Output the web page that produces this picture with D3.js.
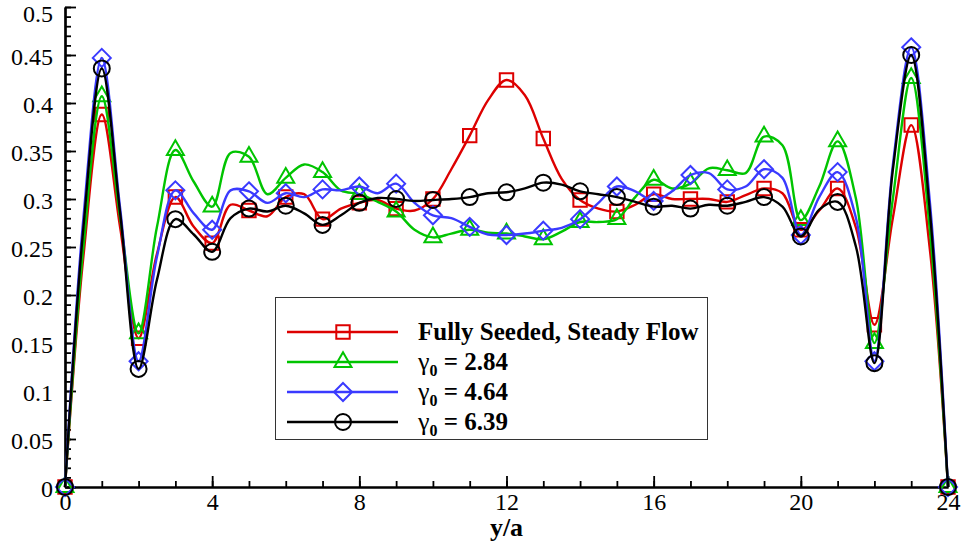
<!DOCTYPE html>
<html>
<head>
<meta charset="utf-8">
<script src="https://cdn.jsdelivr.net/npm/d3@7/dist/d3.min.js"></script>
<style>
  html, body { margin: 0; padding: 0; background: #fff; }
  svg { display: block; }
  svg text { font-family: "Liberation Serif", Tinos, "Times New Roman", Times, "DejaVu Serif", serif; }
</style>
</head>
<body>
<svg id="chart" width="961" height="542"></svg>
<script>
// Wall-normal positions y/a (data every 0.5, symbols every 1.0)
const positions = d3.range(49).map(i => i / 2);

const fullySeeded = [
  0, 0.240, 0.388, 0.270, 0.155, 0.243, 0.302, 0.271, 0.254, 0.294,
  0.288, 0.282, 0.302, 0.305, 0.279, 0.290, 0.296, 0.299, 0.290, 0.288,
  0.300, 0.331, 0.366, 0.403, 0.424, 0.408, 0.363, 0.321, 0.299, 0.290,
  0.287, 0.294, 0.305, 0.300, 0.300, 0.300, 0.297, 0.304, 0.311, 0.306,
  0.268, 0.288, 0.311, 0.270, 0.169, 0.280, 0.377, 0.250, 0
];
const gamma284 = [
  0, 0.250, 0.407, 0.280, 0.160, 0.271, 0.351, 0.318, 0.292, 0.348,
  0.344, 0.305, 0.322, 0.336, 0.328, 0.309, 0.305, 0.297, 0.287, 0.268,
  0.260, 0.264, 0.268, 0.265, 0.264, 0.261, 0.258, 0.266, 0.276, 0.276,
  0.279, 0.302, 0.320, 0.311, 0.316, 0.332, 0.330, 0.327, 0.365, 0.356,
  0.278, 0.313, 0.360, 0.300, 0.150, 0.300, 0.426, 0.270, 0
];
const gamma464 = [
  0, 0.280, 0.447, 0.290, 0.131, 0.240, 0.309, 0.285, 0.268, 0.309,
  0.308, 0.296, 0.306, 0.302, 0.310, 0.309, 0.313, 0.306, 0.316, 0.296,
  0.283, 0.280, 0.271, 0.263, 0.2625, 0.264, 0.267, 0.270, 0.279, 0.296,
  0.313, 0.308, 0.298, 0.308, 0.325, 0.327, 0.310, 0.313, 0.331, 0.322,
  0.2625, 0.302, 0.328, 0.280, 0.131, 0.335, 0.458, 0.300, 0
];
const gamma639 = [
  0, 0.270, 0.436, 0.285, 0.123, 0.216, 0.279, 0.263, 0.245, 0.280,
  0.290, 0.287, 0.293, 0.285, 0.273, 0.283, 0.296, 0.301, 0.300, 0.298,
  0.299, 0.300, 0.302, 0.306, 0.307, 0.311, 0.317, 0.315, 0.308, 0.305,
  0.302, 0.297, 0.292, 0.293, 0.290, 0.294, 0.293, 0.297, 0.302, 0.292,
  0.261, 0.289, 0.297, 0.250, 0.129, 0.330, 0.450, 0.290, 0
];

const xTicks = [0, 4, 8, 12, 16, 20, 24];
const xTickLabels = ["0", "4", "8", "12", "16", "20", "24"];
const yTicks = [0, 0.05, 0.1, 0.15, 0.2, 0.25, 0.3, 0.35, 0.4, 0.45, 0.5];
const yTickLabels = ["0", "0.05", "0.1", "0.15", "0.2", "0.25", "0.3", "0.35", "0.4", "0.45", "0.5"];

const seriesDefs = [
  { name: "Fully Seeded, Steady Flow", values: fullySeeded, color: "#dd0000", symbol: "square" },
  { name: "2.84", values: gamma284, color: "#00c400", symbol: "triangle" },
  { name: "4.64", values: gamma464, color: "#3a3aff", symbol: "diamond" },
  { name: "6.39", values: gamma639, color: "#000000", symbol: "circle" }
];

const serif = '"Liberation Serif", Tinos, "Times New Roman", Times, "DejaVu Serif", serif';

const svg = d3.select("#chart");
const x = d3.scaleLinear().domain([0, 24]).range([65, 948]);
const y = d3.scaleLinear().domain([0, 0.5]).range([487, 7]);

// Axes: ticks point inward, minor ticks every 1 (x) and 0.01 (y)
const axisStyle = g => {
  g.attr("font-family", serif).attr("font-size", 24);
  g.selectAll("path.domain").attr("stroke", "#000").attr("stroke-width", 2.2);
  g.selectAll(".tick line").attr("stroke", "#000").attr("stroke-width", 1.8);
  g.selectAll(".tick text").attr("fill", "#000");
};

svg.append("g")
  .attr("transform", `translate(0,${y(0)})`)
  .call(d3.axisBottom(x).tickValues(d3.range(25)).tickSize(-6).tickFormat("").tickSizeOuter(0))
  .call(axisStyle);
svg.append("g")
  .attr("transform", `translate(${x(0)},0)`)
  .call(d3.axisLeft(y).tickValues(d3.range(51).map(i => i / 100)).tickSize(-6).tickFormat("").tickSizeOuter(0))
  .call(axisStyle);

svg.append("g")
  .attr("transform", `translate(0,${y(0)})`)
  .call(d3.axisBottom(x).tickValues(xTicks).tickSize(-11).tickPadding(6)
    .tickFormat((d, i) => xTickLabels[i]).tickSizeOuter(0))
  .call(axisStyle);
svg.append("g")
  .attr("transform", `translate(${x(0)},0)`)
  .call(d3.axisLeft(y).tickValues(yTicks).tickSize(-11).tickPadding(12)
    .tickFormat((d, i) => yTickLabels[i]).tickSizeOuter(0))
  .call(axisStyle)
  .call(g => g.selectAll(".tick text").attr("dy", d => d === 0.5 ? "0.6em" : "0.38em"));

svg.append("text")
  .attr("x", (x(0) + x(24)) / 2)
  .attr("y", 536)
  .attr("text-anchor", "middle")
  .attr("font-family", serif)
  .attr("font-size", 26)
  .attr("font-weight", "bold")
  .text("y/a");

// Marker shapes
const symbolPath = {
  square: d3.symbol(d3.symbolSquare, 180)(),
  triangle: d3.symbol(d3.symbolTriangle, 125)(),
  diamond: "M0,-9L9,0L0,9L-9,0Z",
  circle: d3.symbol(d3.symbolCircle, 201)()
};

const line = d3.line()
  .x(d => x(d[0]))
  .y(d => y(d[1]))
  .curve(d3.curveCatmullRom.alpha(0.5));

const plot = svg.append("g");
seriesDefs.forEach(s => {
  const pts = positions.map((p, i) => [p, s.values[i]]);
  plot.append("path")
    .datum(pts)
    .attr("fill", "none")
    .attr("stroke", s.color)
    .attr("stroke-width", 2.4)
    .attr("d", line);
  plot.append("g").selectAll("path")
    .data(pts.filter(d => Number.isInteger(d[0])))
    .join("path")
    .attr("transform", d => `translate(${x(d[0])},${y(d[1])})`)
    .attr("d", symbolPath[s.symbol])
    .attr("fill", "none")
    .attr("stroke", s.color)
    .attr("stroke-width", 2);
});

// Legend
const legend = svg.append("g")
  .attr("font-family", serif);
legend.append("rect")
  .attr("x", 275.5).attr("y", 297.5)
  .attr("width", 432).attr("height", 142)
  .attr("fill", "#fff")
  .attr("stroke", "#333")
  .attr("stroke-width", 1);

seriesDefs.forEach((s, i) => {
  const ry = 332 + i * 30;
  const row = legend.append("g");
  row.append("line")
    .attr("x1", 287).attr("x2", 398)
    .attr("y1", ry).attr("y2", ry)
    .attr("stroke", s.color).attr("stroke-width", 2.4);
  row.append("path")
    .attr("transform", `translate(343,${ry})`)
    .attr("d", symbolPath[s.symbol])
    .attr("fill", "none")
    .attr("stroke", s.color)
    .attr("stroke-width", 2);
  const t = row.append("text")
    .attr("x", 418).attr("y", ry + 8)
    .attr("font-size", 25)
    .attr("font-weight", "bold");
  if (i === 0) {
    t.text(s.name);
  } else {
    t.append("tspan").attr("font-weight", "normal").attr("font-size", 26).text("γ");
    t.append("tspan").attr("dy", 6).attr("font-size", 16).text("0");
    t.append("tspan").attr("dy", -6).text(" = " + s.name);
  }
});
</script>
</body>
</html>
